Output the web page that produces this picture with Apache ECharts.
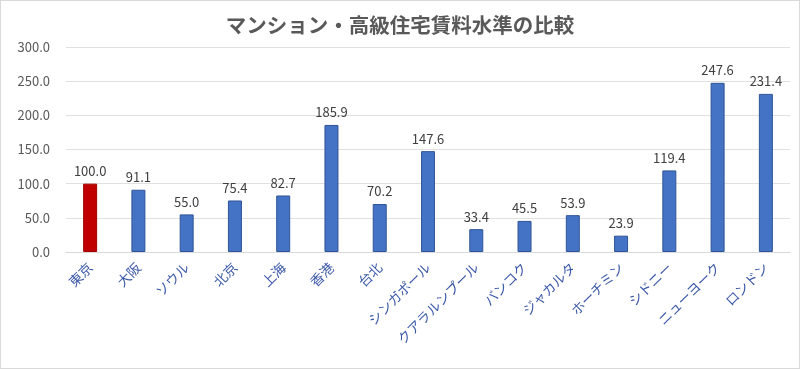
<!DOCTYPE html>
<html><head><meta charset="utf-8">
<script src="https://cdn.jsdelivr.net/npm/echarts@6/dist/echarts.min.js"></script>
<style>html,body{margin:0;padding:0;background:#fff}#c{width:800px;height:369px;box-sizing:border-box;border:1px solid #d9d9d9}</style>
</head><body><div id="c"></div>
<script>
const categories = ["東京","大阪","ソウル","北京","上海","香港","台北","シンガポール","クアラルンプール","バンコク","ジャカルタ","ホーチミン","シドニー","ニューヨーク","ロンドン"];
const values = [100.0,91.1,55.0,75.4,82.7,185.9,70.2,147.6,33.4,45.5,53.9,23.9,119.4,247.6,231.4];
const yTicks = [0,50,100,150,200,250,300];
const highlightIndex = 0;

const font = '"Noto Sans CJK JP", "Noto Sans", sans-serif';
const chart = echarts.init(document.getElementById('c'));
chart.setOption({
  animation:false,
  title:{text:'マンション・高級住宅賃料水準の比較',left:'center',top:9,
    textStyle:{fontFamily:font,fontSize:20.5,fontWeight:'bold',color:'#595959'}},
  grid:{left:65,right:9,top:46,bottom:116},
  xAxis:{type:'category',data:categories,
    axisLine:{lineStyle:{color:'#d9d9d9'}},axisTick:{show:false},
    axisLabel:{rotate:45,interval:0,fontFamily:font,fontSize:13.5,color:'#3a58a8',margin:13}},
  yAxis:{type:'value',min:yTicks[0],max:yTicks[yTicks.length-1],interval:50,
    axisLine:{show:false},axisTick:{show:false},
    splitLine:{lineStyle:{color:'#e0e0e0'}},
    axisLabel:{formatter:v=>v.toFixed(1),fontFamily:font,fontSize:13,color:'#595959',margin:16}},
  series:[{type:'bar',barWidth:14,
    data:values.map((v,i)=>({value:v,itemStyle:i===highlightIndex?{color:'#c00000',borderColor:'#a00000',borderWidth:1}:{color:'#4472c4',borderColor:'#2f5597',borderWidth:1}})),
    label:{show:true,position:'top',distance:6,formatter:p=>p.value.toFixed(1),fontFamily:font,fontSize:13,color:'#404040'}}]
});
</script></body></html>
